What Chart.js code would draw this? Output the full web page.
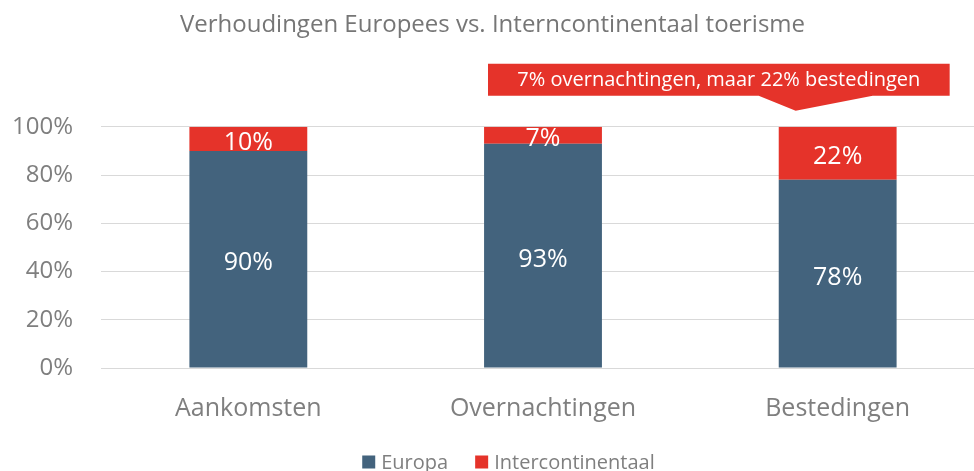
<!DOCTYPE html>
<html lang="nl">
<head>
<meta charset="UTF-8">
<title>Verhoudingen Europees vs. Intercontinentaal toerisme</title>
<script src="https://cdn.jsdelivr.net/npm/chart.js"></script>
<style>
    * { margin: 0; padding: 0; box-sizing: border-box; }
    body { background: white; overflow: hidden; width: 974px; height: 471px; }
    .wrap { position: relative; width: 985px; height: 471px; }
</style>
</head>
<body>
<div class="wrap"><canvas id="chart"></canvas></div>

<script>
    // data
    var categories = ["Aankomsten", "Overnachtingen", "Bestedingen"];
    var europa = [90, 93, 78];
    var intercontinentaal = [10, 7, 22];
    var yTicks = [0, 20, 40, 60, 80, 100];
    var calloutText = "7% overnachtingen, maar 22% bestedingen";

    var blue = "#43637d";
    var red = "#e5332a";
    var grey = "#7f7f7f";
    var font = "'Open Sans', 'Noto Sans', sans-serif";

    // white value labels centered in each segment
    var barLabels = {
        id: "barLabels",
        afterDatasetsDraw: function(chart) {
            var ctx = chart.ctx;
            ctx.save();
            ctx.fillStyle = "#ffffff";
            ctx.font = "25px " + font;
            ctx.textAlign = "center";
            ctx.textBaseline = "middle";
            chart.data.datasets.forEach(function(ds, i) {
                chart.getDatasetMeta(i).data.forEach(function(bar, j) {
                    var mid = (bar.y + bar.base) / 2 + 4;
                    ctx.fillText(ds.data[j] + "%", bar.x, mid);
                });
            });
            ctx.restore();
        }
    };

    // callout above the last bar
    var callout = {
        id: "callout",
        afterDraw: function(chart) {
            var ctx = chart.ctx;
            var x = chart.scales.x, y = chart.scales.y;
            var top = y.getPixelForValue(100);
            var tipX = x.getPixelForValue(2) - 42;
            var left = x.getPixelForValue(1) - 55;
            var right = x.getPixelForValue(2) + 112;
            var y1 = top - 63, y2 = top - 31, tipY = top - 16;
            ctx.save();
            ctx.fillStyle = red;
            ctx.beginPath();
            ctx.moveTo(left, y1);
            ctx.lineTo(right, y1);
            ctx.lineTo(right, y2);
            ctx.lineTo(tipX + 77, y2);
            ctx.lineTo(tipX, tipY);
            ctx.lineTo(tipX - 37, y2);
            ctx.lineTo(left, y2);
            ctx.closePath();
            ctx.fill();
            ctx.fillStyle = "#ffffff";
            ctx.font = "20px " + font;
            ctx.textAlign = "center";
            ctx.textBaseline = "middle";
            ctx.fillText(calloutText, (left + right) / 2, (y1 + y2) / 2);
            ctx.restore();
        }
    };

    // legend drawn by hand so it sits tight under the axis
    var bottomLegend = {
        id: "bottomLegend",
        afterDraw: function(chart) {
            var ctx = chart.ctx;
            var box = 13, gap = 6, spacing = 27;
            var cy = chart.height - 9;
            ctx.save();
            ctx.font = "20px " + font;
            ctx.textBaseline = "middle";
            var items = chart.data.datasets.map(function(ds) {
                return { text: ds.label, color: ds.backgroundColor, w: ctx.measureText(ds.label).width };
            });
            var total = items.reduce(function(s, it) { return s + box + gap + it.w; }, 0) + spacing * (items.length - 1);
            var xPos = chart.width / 2 + 16 - total / 2;
            items.forEach(function(it) {
                ctx.fillStyle = it.color;
                ctx.fillRect(xPos, cy - box / 2, box, box);
                ctx.fillStyle = grey;
                ctx.fillText(it.text, xPos + box + gap, cy + 1);
                xPos += box + gap + it.w + spacing;
            });
            ctx.restore();
        }
    };

    var ctx = document.getElementById("chart").getContext("2d");
    var chart = new Chart(ctx, {
        type: "bar",
        data: {
            labels: categories,
            datasets: [{
                label: "Europa",
                data: europa,
                backgroundColor: blue
            }, {
                label: "Intercontinentaal",
                data: intercontinentaal,
                backgroundColor: red
            }]
        },
        options: {
            responsive: true,
            maintainAspectRatio: false,
            animation: false,
            devicePixelRatio: 1,
            datasets: {
                bar: { categoryPercentage: 1, barPercentage: 0.4 }
            },
            layout: { padding: { left: 0, right: 0, top: 0, bottom: 21 } },
            plugins: {
                title: {
                    display: true,
                    text: "Verhoudingen Europees vs. Interncontinentaal toerisme",
                    color: "#767676",
                    font: { family: font, size: 24, weight: "normal" },
                    padding: { top: 11, bottom: 87 }
                },
                legend: { display: false },
                tooltip: { enabled: false }
            },
            scales: {
                x: {
                    stacked: true,
                    grid: { display: false, drawTicks: false },
                    border: { display: false },
                    ticks: {
                        color: grey,
                        padding: 26,
                        font: { family: font, size: 25 }
                    }
                },
                y: {
                    stacked: true,
                    min: 0,
                    max: 100,
                    afterBuildTicks: function(scale) {
                        scale.ticks = yTicks.map(function(v) { return { value: v }; });
                    },
                    afterFit: function(scale) { scale.width = 101; },
                    grid: { color: "#d9d9d9", lineWidth: 1, drawTicks: false },
                    border: { display: false },
                    ticks: {
                        color: grey,
                        padding: 28,
                        font: { family: font, size: 24 },
                        callback: function(v) { return v + "%"; }
                    }
                }
            }
        },
        plugins: [barLabels, callout, bottomLegend]
    });
</script>
</body>
</html>
